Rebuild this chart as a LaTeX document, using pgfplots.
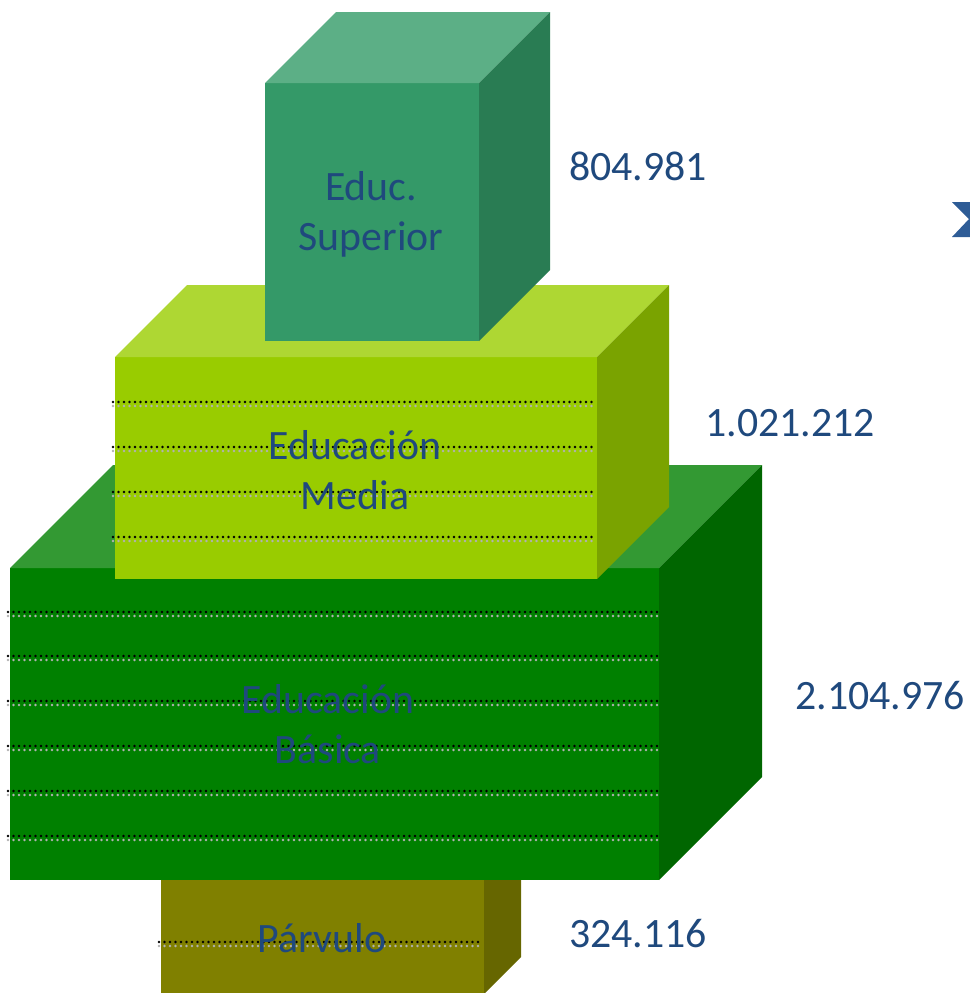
\documentclass[border=0pt]{standalone}
\usepackage{pgfplots}
\pgfplotsset{compat=1.18}
\usepackage{fontspec}
\setmainfont{Carlito}
\definecolor{txt}{RGB}{31,73,125}
\definecolor{supF}{RGB}{52,153,104}
\definecolor{supT}{RGB}{92,175,134}
\definecolor{supS}{RGB}{41,124,83}
\definecolor{medF}{RGB}{153,204,0}
\definecolor{medT}{RGB}{174,215,51}
\definecolor{medS}{RGB}{122,163,0}
\definecolor{basF}{RGB}{0,128,0}
\definecolor{basT}{RGB}{51,153,51}
\definecolor{basS}{RGB}{0,102,0}
\definecolor{parF}{RGB}{128,128,0}
\definecolor{parS}{RGB}{102,102,0}
\definecolor{chevA}{RGB}{46,92,150}
\tikzset{lbl/.style={font=\fontsize{20.9}{25}\selectfont, text=txt, align=center, inner sep=0pt}}
% #1 xleft #2 xright #3 ytop #4 ybottom #5 depth #6 front #7 top #8 side
\newcommand{\cube}[8]{%
  \addplot[fill=#6,draw=none] coordinates {(#1,#3) (#2,#3) (#2,#4) (#1,#4)} -- cycle;
  \addplot[fill=#7,draw=none] coordinates {(#1,#3) (#2,#3) ({#2+#5},{#3-#5}) ({#1+#5},{#3-#5})} -- cycle;
  \addplot[fill=#8,draw=none] coordinates {(#2,#3) ({#2+#5},{#3-#5}) ({#2+#5},{#4-#5}) (#2,#4)} -- cycle;
}
\tikzset{dotst/.style={line width=1.4pt, line cap=round, dash pattern=on 0pt off 2.75pt}}
\newcommand{\dotline}[3]{%
  \addplot[draw=black!30,dotst] coordinates {(#1,{#3+4}) (#2,{#3+4})};
  \addplot[draw=black,dotst] coordinates {(#1,#3) (#2,#3)};
}
\begin{document}
\begin{tikzpicture}
\begin{axis}[
  scale only axis, width=485pt, height=496.5pt,
  xmin=0, xmax=970, ymin=0, ymax=993, y dir=reverse,
  hide axis, clip=true,
]
\path (axis cs:0,0) rectangle (axis cs:970,993);
% Parvulo
\cube{161}{484}{880}{994}{37}{parF}{parF}{parS}
\dotline{159}{481}{942}
% Basica
\cube{10}{659}{568}{880}{103}{basF}{basT}{basS}
\dotline{8}{657}{612}
\dotline{8}{657}{656}
\dotline{8}{657}{701}
\dotline{8}{657}{746}
\dotline{8}{657}{791}
\dotline{8}{657}{836}
% Media
\cube{115}{597}{357}{579}{72}{medF}{medT}{medS}
\dotline{113}{593}{402}
\dotline{113}{593}{447}
\dotline{113}{593}{492}
\dotline{113}{593}{537}
% Superior
\cube{265}{479}{83}{341}{71}{supF}{supT}{supS}
% chevron
\addplot[fill=chevA,draw=none] coordinates {(952,202) (975,202) (992,219) (975,237) (952,237) (969,219)} -- cycle;
% box labels
\node[lbl] at (axis cs:371,214) {Educ.\\Superior};
\node[lbl] at (axis cs:355,470) {Educación\\Media};
\node[lbl] at (axis cs:328,724) {Educación\\Básica};
\node[lbl] at (axis cs:322,938) {Párvulo};
% values
\node[lbl] at (axis cs:638,166) {804.981};
\node[lbl] at (axis cs:790,423) {1.021.212};
\node[lbl] at (axis cs:880,696) {2.104.976};
\node[lbl] at (axis cs:638,934) {324.116};
\end{axis}
\end{tikzpicture}
\end{document}
